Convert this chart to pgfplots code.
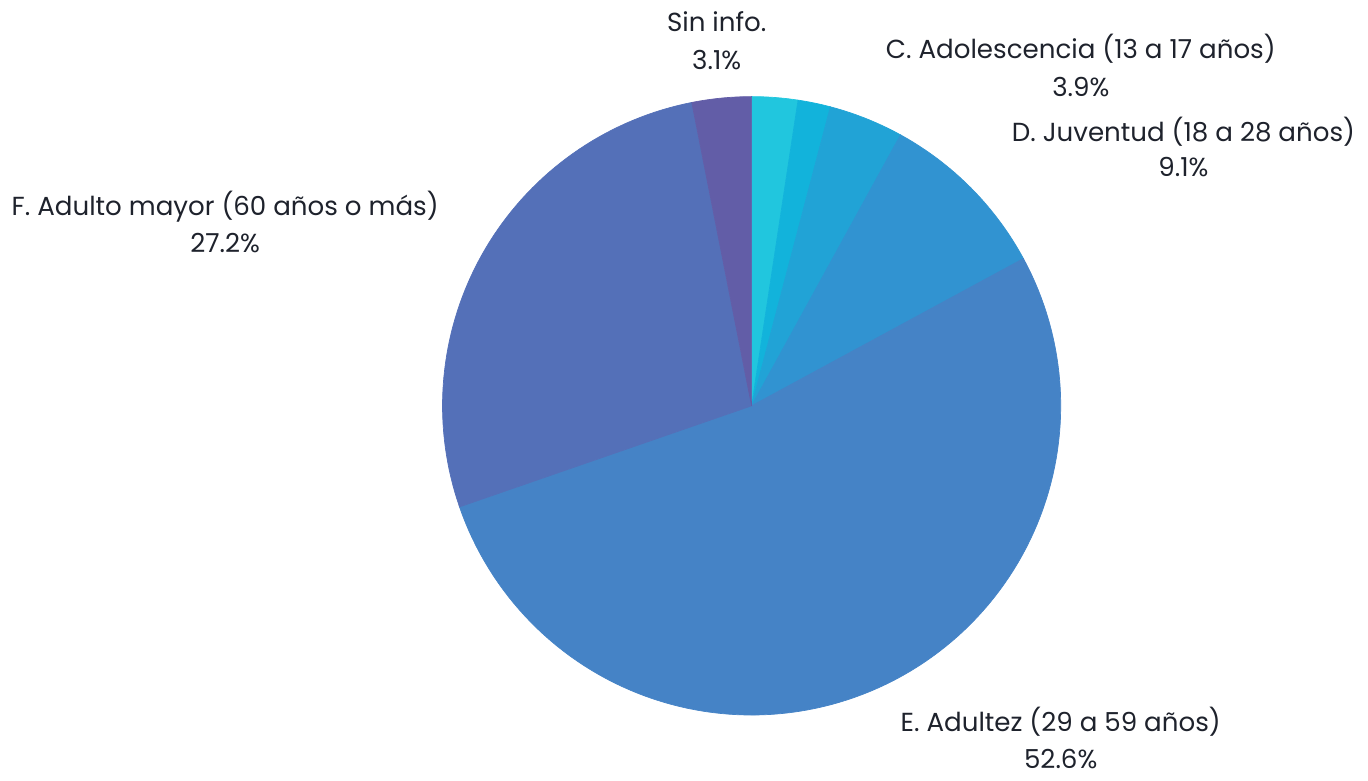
\documentclass[border=0pt]{standalone}
\usepackage{pgfplots}
\pgfplotsset{compat=1.18}
\usepackage{fontspec}
\setmainfont{Poppins}
\definecolor{cA}{HTML}{21C6DE}
\definecolor{cB}{HTML}{12B3DB}
\definecolor{cC}{HTML}{21A3D6}
\definecolor{cD}{HTML}{3193D1}
\definecolor{cE}{HTML}{4583C6}
\definecolor{cF}{HTML}{5470B8}
\definecolor{cG}{HTML}{625DA7}
\definecolor{txt}{HTML}{1E222C}
\begin{document}
\begin{tikzpicture}
\begin{axis}[
  scale only axis, width=13.68cm, height=7.74cm,
  xmin=-2.419, xmax=1.994, ymin=-1.190, ymax=1.306,
  hide axis, clip=false,
]
\path (rel axis cs:0,0) rectangle (rel axis cs:1,1);
% slices: cumulative percentages, clockwise from 12 o'clock
\addplot[fill=cA, draw=cA, line width=0.2pt, domain=0:2.4, samples=10] ({sin(3.6*x)},{cos(3.6*x)}) -- (axis cs:0,0) -- cycle;
\addplot[fill=cB, draw=cB, line width=0.2pt, domain=2.4:4.1, samples=8] ({sin(3.6*x)},{cos(3.6*x)}) -- (axis cs:0,0) -- cycle;
\addplot[fill=cC, draw=cC, line width=0.2pt, domain=4.1:8.0, samples=12] ({sin(3.6*x)},{cos(3.6*x)}) -- (axis cs:0,0) -- cycle;
\addplot[fill=cD, draw=cD, line width=0.2pt, domain=8.0:17.1, samples=25] ({sin(3.6*x)},{cos(3.6*x)}) -- (axis cs:0,0) -- cycle;
\addplot[fill=cE, draw=cE, line width=0.2pt, domain=17.1:69.7, samples=120] ({sin(3.6*x)},{cos(3.6*x)}) -- (axis cs:0,0) -- cycle;
\addplot[fill=cF, draw=cF, line width=0.2pt, domain=69.7:96.9, samples=70] ({sin(3.6*x)},{cos(3.6*x)}) -- (axis cs:0,0) -- cycle;
\addplot[fill=cG, draw=cG, line width=0.2pt, domain=96.9:100, samples=10] ({sin(3.6*x)},{cos(3.6*x)}) -- (axis cs:0,0) -- cycle;
% labels
\begin{scope}[every node/.style={text=txt, font=\fontsize{7.45}{8.5}\selectfont, align=center}]
\node at (axis cs:-0.113,1.242) {Sin info.};
\node at (axis cs:-0.113,1.119) {3.1\%};
\node at (axis cs:1.065,1.155) {C. Adolescencia (13 a 17 años)};
\node at (axis cs:1.065,1.032) {3.9\%};
\node at (axis cs:1.397,0.887) {D. Juventud (18 a 28 años)};
\node at (axis cs:1.397,0.771) {9.1\%};
\node at (axis cs:-1.703,0.645) {F. Adulto mayor (60 años o más)};
\node at (axis cs:-1.703,0.526) {27.2\%};
\node at (axis cs:1.0,-1.023) {E. Adultez (29 a 59 años)};
\node at (axis cs:1.0,-1.142) {52.6\%};
\end{scope}
\end{axis}
\end{tikzpicture}
\end{document}
